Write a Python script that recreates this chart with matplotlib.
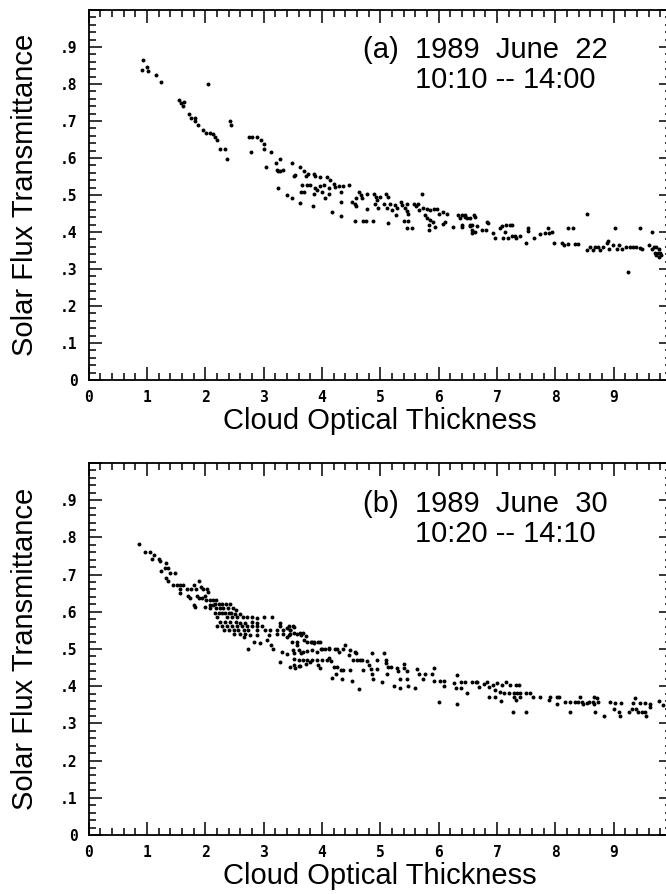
import matplotlib
matplotlib.use("Agg")
import matplotlib.pyplot as plt
from matplotlib.ticker import MultipleLocator, FixedLocator, FixedFormatter

# ---------------- data ----------------
# (a) 1989 June 22, 10:10 -- 14:00
tau_a = [
    0.94, 0.92, 1.00, 1.02, 1.15, 1.25, 2.05, 1.55, 1.58, 1.64, 1.62, 1.73, 1.76, 1.82,
    1.83, 1.88, 2.42, 2.45, 1.97, 2.01, 2.09, 2.13, 2.17, 2.21, 2.25, 2.34, 2.37, 2.75,
    2.80, 2.89, 2.96, 3.01, 3.01, 3.13, 2.79, 3.28, 3.21, 3.04, 3.48, 3.62, 3.24, 3.29,
    3.54, 3.52, 3.24, 3.40, 3.49, 3.62, 3.34, 3.69, 3.72, 3.77, 3.86, 3.89, 3.96, 4.09,
    4.14, 3.66, 3.74, 3.80, 3.64, 3.70, 3.88, 3.92, 3.87, 3.97, 4.00, 4.03, 4.12, 4.13,
    4.20, 4.23, 4.30, 4.33, 4.37, 4.46, 3.85, 4.06, 4.17, 4.33, 4.33, 4.52, 4.56, 4.59,
    4.59, 4.63, 4.67, 4.69, 4.78, 4.78, 4.90, 4.93, 4.94, 5.00, 5.10, 5.13, 4.57, 4.70,
    4.75, 4.88, 4.91, 4.97, 5.06, 5.11, 5.17, 5.20, 5.26, 5.28, 5.27, 5.35, 5.38, 5.42,
    5.45, 5.46, 5.48, 5.57, 5.62, 5.64, 5.66, 5.71, 5.74, 5.80, 5.86, 5.92, 5.97, 6.01,
    6.08, 6.14, 5.77, 5.80, 5.85, 5.91, 5.83, 5.40, 5.48, 5.46, 5.55, 5.94, 6.08, 6.11,
    6.24, 6.34, 6.40, 6.45, 6.37, 6.40, 6.48, 6.53, 6.60, 6.57, 6.63, 6.46, 6.54, 6.63,
    6.40, 6.54, 6.58, 6.65, 6.57, 6.74, 6.81, 6.83, 6.85, 6.93, 6.97, 7.05, 7.08, 7.13,
    7.16, 7.22, 7.25, 7.11, 7.19, 7.25, 7.31, 7.33, 7.39, 7.50, 7.53, 7.54, 7.64, 7.74,
    7.83, 7.87, 7.90, 7.95, 7.97, 8.11, 8.15, 8.22, 8.30, 8.22, 8.33, 8.39, 8.54, 8.54,
    8.60, 8.68, 8.73, 8.65, 8.76, 8.82, 8.88, 8.90, 8.92, 8.99, 9.02, 9.05, 9.10, 9.14,
    9.22, 9.28, 9.33, 9.39, 9.45, 9.48, 9.24, 9.45, 9.65, 9.60, 9.65, 9.70, 9.71, 9.73,
    9.76, 9.78, 9.79, 9.82, 9.77, 9.72, 3.23, 5.14, 5.83,
]
trans_a = [
    .865, .838, .847, .836, .825, .806, .800, .758, .750, .751, .741, .719, .708, .708,
    .699, .688, .699, .688, .676, .667, .667, .665, .656, .649, .624, .624, .596, .658,
    .658, .658, .649, .638, .625, .616, .615, .596, .587, .577, .587, .575, .566, .566,
    .554, .550, .519, .500, .491, .479, .568, .564, .551, .558, .557, .551, .549, .548,
    .541, .527, .527, .527, .509, .509, .518, .514, .503, .523, .509, .527, .518, .504,
    .531, .521, .523, .509, .524, .527, .471, .491, .453, .480, .442, .482, .477, .470,
    .491, .509, .500, .491, .504, .461, .504, .495, .486, .495, .503, .494, .430, .430,
    .430, .430, .477, .464, .477, .466, .477, .459, .473, .466, .446, .482, .473, .466,
    .477, .457, .449, .477, .470, .477, .459, .503, .464, .462, .459, .462, .462, .450,
    .455, .450, .446, .437, .432, .428, .419, .430, .430, .412, .412, .413, .422, .427,
    .413, .446, .446, .446, .437, .414, .437, .420, .446, .405, .400, .440, .437, .440,
    .419, .417, .419, .417, .396, .405, .405, .428, .425, .396, .383, .410, .415, .401,
    .419, .419, .420, .383, .383, .390, .390, .383, .390, .371, .410, .402, .383, .394,
    .396, .410, .396, .400, .371, .369, .365, .410, .410, .367, .368, .367, .450, .351,
    .360, .360, .360, .351, .351, .360, .369, .377, .355, .364, .410, .355, .364, .355,
    .360, .360, .360, .360, .357, .354, .293, .410, .401, .364, .355, .360, .342, .337,
    .342, .333, .342, .337, .355, .360, .568, .424, .405,
]

# (b) 1989 June 30, 10:20 -- 14:10
tau_b = [
    0.86, 0.96, 1.06, 1.13, 1.09, 1.20, 1.22, 1.32, 1.31, 1.36, 1.25, 1.40, 1.49, 1.32,
    1.36, 1.45, 1.52, 1.57, 1.62, 1.56, 1.56, 1.69, 1.76, 1.80, 1.89, 1.85, 1.93, 1.97,
    2.03, 2.05, 1.70, 1.74, 1.86, 1.89, 1.94, 2.00, 2.02, 2.08, 2.14, 2.18, 1.80, 1.83,
    1.99, 2.08, 2.13,
    2.16, 2.24, 2.29, 2.36, 2.42,
    2.09, 2.19, 2.25, 2.30, 2.39, 2.47, 2.52,
    2.17, 2.23, 2.28, 2.34, 2.40, 2.45, 2.51, 2.59,
    2.21, 2.38, 2.46, 2.55, 2.64, 2.72, 2.80, 2.89, 3.00, 3.15,
    2.26, 2.34, 2.43, 2.52, 2.60, 2.69, 2.80, 2.89,
    2.21, 2.29, 2.38, 2.46, 2.55, 2.63, 2.72, 2.80, 2.89, 2.97, 3.29, 3.43, 3.51,
    2.32, 2.40, 2.49, 2.57, 2.66, 2.74, 2.89, 3.03, 3.11, 3.23, 3.34, 3.46,
    2.50, 2.60, 2.69, 2.77, 2.89, 3.09, 3.23, 3.34, 3.46, 3.57, 2.66, 3.40,
    2.74, 2.83, 2.94, 3.06, 3.17, 3.32, 3.40, 3.52, 3.64, 3.75, 3.86, 3.94, 4.00, 4.12,
    4.23, 3.12, 3.58, 3.69, 3.43, 3.52, 3.64, 3.72, 3.83, 3.29, 3.40, 3.46, 3.29, 3.46,
    3.54, 3.62, 3.80, 3.94, 4.17, 4.26, 4.12,
    3.52, 3.63, 3.67, 3.74, 3.81, 3.86, 3.97, 3.48, 3.57, 3.50, 3.60, 3.68, 3.83, 3.91,
    3.98, 4.06, 4.13, 4.26, 4.29, 4.37, 4.46, 4.57, 4.69, 3.52, 3.60, 3.68, 3.74, 3.83,
    3.92, 4.01, 4.09, 4.16, 3.53, 3.60, 3.72, 3.96, 4.20, 4.32, 4.37, 4.48, 4.53, 4.60,
    4.66, 4.77, 4.80, 4.85, 4.70, 4.95, 5.09, 5.10, 5.14, 4.25, 4.34, 4.52, 4.63, 4.86,
    4.87, 5.03, 5.11, 5.19, 5.28, 5.40, 5.41, 5.31, 5.45, 5.23, 5.33, 5.34, 5.46, 5.47,
    5.60, 5.63, 5.66, 5.74, 5.77, 5.89, 5.92, 5.92, 6.03, 6.09, 6.09, 6.26, 6.32, 6.38,
    6.46, 6.57, 6.66, 6.29, 6.39, 6.48, 6.00, 6.31, 4.40, 4.49, 4.58, 4.86, 4.94, 5.06,
    6.64, 6.70, 6.77, 6.83, 6.86, 6.93, 7.00, 7.08, 7.16, 7.22, 7.33, 7.37, 6.97, 7.05,
    7.12, 7.20, 7.29, 7.35, 6.86, 6.97, 7.07, 7.29, 7.32, 7.40, 7.40, 7.49, 7.57, 7.61,
    7.74, 7.28, 7.50, 7.90, 7.91, 8.03, 8.07, 8.17, 8.03, 8.25, 8.25, 8.34, 8.42, 8.39,
    8.45, 8.48, 8.54, 8.58, 8.66, 8.72, 8.64, 8.67, 8.73, 8.68, 8.93, 8.84, 9.00, 9.02,
    9.12, 9.09, 9.11, 9.26, 9.31, 9.33, 9.36, 9.39, 9.42, 9.45, 9.48, 9.54, 9.55, 9.54,
    9.63, 9.63, 9.77, 9.85,
]
trans_b = [
    .782, .761, .761, .752, .741, .743, .737, .732, .719, .719, .710, .703, .703, .692,
    .683, .671, .671, .671, .671, .660, .651, .662, .662, .671, .683, .660, .666, .660,
    .660, .654, .642, .636, .642, .636, .636, .642, .633, .633, .633, .633, .618, .612,
    .612, .618, .618,
    .620, .620, .620, .620, .620,
    .609, .609, .609, .609, .609, .609, .604,
    .597, .597, .597, .597, .597, .597, .595, .595,
    .585, .585, .585, .585, .585, .585, .585, .583, .585, .585,
    .573, .573, .573, .573, .571, .571, .573, .571,
    .562, .562, .562, .562, .562, .562, .562, .562, .562, .562, .562, .562, .562,
    .551, .551, .551, .551, .551, .551, .551, .551, .551, .551, .551, .551,
    .540, .540, .540, .537, .537, .537, .540, .540, .540, .540, .533, .533,
    .501, .519, .517, .523, .500, .493, .487, .490, .490, .494, .515, .519, .501, .504,
    .500, .510, .510, .523, .538, .543, .538, .535, .520, .569, .556, .550, .466, .452,
    .450, .455, .466, .457, .421, .452, .475,
    .560, .542, .542, .520, .520, .520, .520, .520, .520, .497, .497, .493, .497, .493,
    .500, .500, .500, .500, .493, .501, .484, .493, .470, .474, .470, .470, .470, .470,
    .470, .470, .470, .467, .457, .455, .460, .450, .451, .444, .444, .444, .470, .470,
    .470, .469, .458, .446, .444, .446, .470, .463, .452, .432, .419, .413, .392, .433,
    .419, .412, .432, .452, .449, .461, .449, .440, .440, .400, .394, .420, .420, .400,
    .394, .445, .434, .420, .434, .434, .450, .415, .415, .415, .400, .408, .430, .411,
    .411, .411, .411, .394, .394, .383, .358, .351, .511, .498, .490, .488, .470, .488,
    .410, .399, .405, .412, .399, .403, .408, .403, .412, .403, .403, .403, .391, .385,
    .383, .383, .381, .383, .370, .370, .361, .370, .363, .370, .383, .383, .383, .370,
    .370, .331, .331, .363, .370, .370, .370, .358, .353, .358, .331, .358, .370, .358,
    .358, .353, .355, .358, .370, .368, .358, .351, .357, .331, .358, .320, .340, .355,
    .355, .331, .320, .331, .340, .355, .368, .340, .331, .355, .331, .355, .320, .331,
    .353, .344, .360, .350,
]

ytick_vals = [0.0, 0.1, 0.2, 0.3, 0.4, 0.5, 0.6, 0.7, 0.8, 0.9]
ytick_text = ["0", ".1", ".2", ".3", ".4", ".5", ".6", ".7", ".8", ".9"]
xtick_vals = [0, 1, 2, 3, 4, 5, 6, 7, 8, 9]
xtick_text = ["0", "1", "2", "3", "4", "5", "6", "7", "8", "9"]

panels = [
    (tau_a, trans_a, "(a)  1989  June  22", "10:10 -- 14:00"),
    (tau_b, trans_b, "(b)  1989  June  30", "10:20 -- 14:10"),
]

# ---------------- figure ----------------
W, H = 666, 894
fig = plt.figure(figsize=(W / 100, H / 100), dpi=100)
fig.patch.set_facecolor("white")

label_font = dict(family=["Liberation Sans", "DejaVu Sans"], size=21)
tick_font = dict(family=["DejaVu Sans Mono"], weight="bold", size=10.5)

# axes boxes in pixels: (left, top, right, bottom)
boxes = [(88.5, 10, 672, 380), (88.5, 463, 672, 835)]

for (tau, trans, line1, line2), (l, t, r, b) in zip(panels, boxes):
    ax = fig.add_axes([l / W, 1 - b / H, (r - l) / W, (b - t) / H])
    ax.scatter(tau, trans, s=8, c="black", marker="o", linewidths=0, zorder=3)
    ax.set_xlim(0, 10)
    ax.set_ylim(0, 1.0)

    ax.xaxis.set_major_locator(FixedLocator(xtick_vals + [10]))
    ax.xaxis.set_major_formatter(FixedFormatter(xtick_text + [""]))
    ax.xaxis.set_minor_locator(MultipleLocator(0.2))
    ax.yaxis.set_major_locator(FixedLocator(ytick_vals + [1.0]))
    ax.yaxis.set_major_formatter(FixedFormatter(ytick_text + [""]))
    ax.yaxis.set_minor_locator(MultipleLocator(0.02))

    ax.tick_params(which="both", direction="in", top=True, right=True,
                   color="black", width=1.1)
    ax.tick_params(which="major", length=9.5)
    ax.tick_params(which="minor", length=5)
    ax.tick_params(axis="y", which="major", pad=8)
    ax.tick_params(axis="x", which="major", pad=7.5)
    for lab in ax.get_xticklabels() + ax.get_yticklabels():
        lab.set_fontfamily(tick_font["family"])
        lab.set_fontweight(tick_font["weight"])
        lab.set_fontsize(tick_font["size"])
    for sp in ax.spines.values():
        sp.set_linewidth(1.3)

    ax.set_xlabel("Cloud Optical Thickness", **label_font)
    ax.set_ylabel("Solar Flux Transmittance", **label_font)
    ax.xaxis.set_label_coords(0.5, -0.072)
    ax.yaxis.set_label_coords(-0.085, 0.5)

    ax.text(4.70, 0.869, line1, ha="left", va="baseline", **label_font)
    ax.text(5.60, 0.788, line2, ha="left", va="baseline", **label_font)

fig.savefig("out.png", dpi=100, facecolor="white")
